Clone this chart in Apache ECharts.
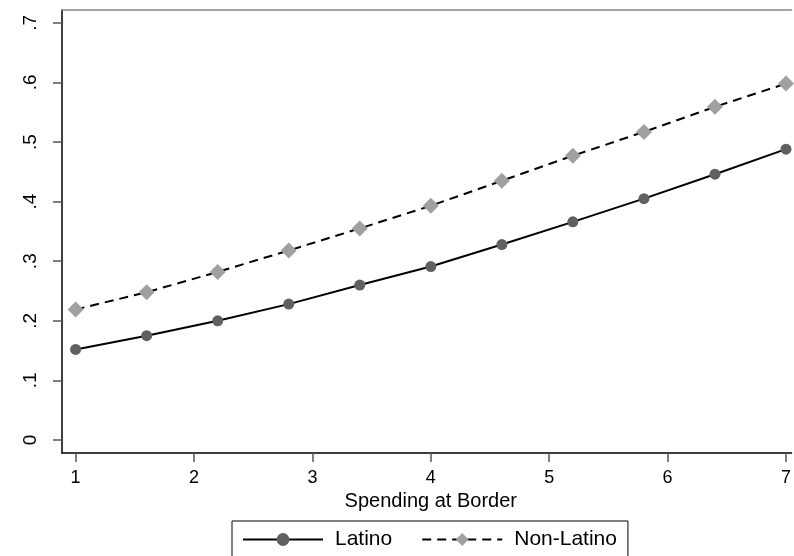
<!DOCTYPE html>
<html>
<head>
<meta charset="utf-8">
<script src="https://cdn.jsdelivr.net/npm/echarts@6/dist/echarts.min.js"></script>
<style>
html,body{margin:0;padding:0;background:#fff;}
#c{width:794px;height:556px;}
</style>
</head>
<body>
<div id="c"></div>
<script>
var xValues = [1, 1.6, 2.2, 2.8, 3.4, 4.0, 4.6, 5.2, 5.8, 6.4, 7];
var latino = [0.152, 0.175, 0.200, 0.228, 0.260, 0.291, 0.328, 0.366, 0.405, 0.446, 0.488];
var nonLatino = [0.219, 0.248, 0.282, 0.318, 0.355, 0.393, 0.435, 0.477, 0.517, 0.559, 0.598];
var xTicks = [1, 2, 3, 4, 5, 6, 7];
var yTicks = [0, 0.1, 0.2, 0.3, 0.4, 0.5, 0.6, 0.7];
var yTickLabels = ['0', '.1', '.2', '.3', '.4', '.5', '.6', '.7'];
var xTitle = 'Spending at Border';
var seriesNames = ['Latino', 'Non-Latino'];

function pairs(xs, ys) { return xs.map(function (x, i) { return [x, ys[i]]; }); }

var FONT = '"Liberation Sans", Arial, sans-serif';
var chart = echarts.init(document.getElementById('c'), null, {renderer: 'canvas'});
chart.setOption({
  animation: false,
  backgroundColor: '#ffffff',
  grid: {left: 62, top: 10, right: 0, bottom: 103, containLabel: false},
  legend: {
    data: seriesNames,
    left: 232, top: 521,
    width: 399,
    orient: 'horizontal',
    itemWidth: 80, itemHeight: 16, itemGap: 29,
    padding: [8, 11, 20, 10],
    borderColor: '#000', borderWidth: 1,
    textStyle: {fontFamily: FONT, fontSize: 21, color: '#000', padding: [0, 0, 0, 7]},
    selectedMode: false
  },
  xAxis: [{
    type: 'value', min: 0.885, max: 7.047,
    position: 'bottom',
    name: xTitle, nameLocation: 'middle', nameGap: 37,
    nameTextStyle: {fontFamily: FONT, fontSize: 20, color: '#000', padding: [0, 0, 0, 8]},
    axisLine: {show: true, onZero: false, lineStyle: {color: '#000', width: 1.5}},
    axisTick: {show: true, length: 9, inside: false, customValues: xTicks, lineStyle: {color: '#555', width: 1.5}},
    axisLabel: {customValues: xTicks, fontFamily: FONT, fontSize: 18, color: '#000', margin: 16,
      formatter: function (v) { return String(v); }},
    splitLine: {show: false}
  }, {
    type: 'value', min: 0.885, max: 7.047, position: 'top',
    axisLine: {show: true, onZero: false, lineStyle: {color: '#888', width: 1.5}},
    axisTick: {show: false}, axisLabel: {show: false}, splitLine: {show: false}
  }],
  yAxis: {
    type: 'value', min: -0.0218, max: 0.7215,
    axisLine: {show: true, onZero: false, lineStyle: {color: '#000', width: 1.5}},
    axisTick: {show: true, length: 9, customValues: yTicks, lineStyle: {color: '#555', width: 1.5}},
    axisLabel: {customValues: yTicks, rotate: 90, fontFamily: FONT, fontSize: 19, color: '#000', margin: 22,
      formatter: function (v) {
        var i = yTicks.findIndex(function (t) { return Math.abs(t - v) < 1e-9; });
        return i >= 0 ? yTickLabels[i] : '';
      }},
    splitLine: {show: false}
  },
  series: [{
    name: seriesNames[0], type: 'line', xAxisIndex: 0,
    data: pairs(xValues, latino),
    symbol: 'circle', symbolSize: 11,
    lineStyle: {color: '#000', width: 2, type: 'solid'},
    itemStyle: {color: '#606060', borderWidth: 0},
    emphasis: {disabled: true}
  }, {
    name: seriesNames[1], type: 'line', xAxisIndex: 0,
    data: pairs(xValues, nonLatino),
    symbol: 'diamond', symbolSize: 16,
    lineStyle: {color: '#000', width: 2, type: [9, 6]},
    itemStyle: {color: '#a0a0a0', borderWidth: 0},
    emphasis: {disabled: true}
  }]
});
</script>
</body>
</html>
